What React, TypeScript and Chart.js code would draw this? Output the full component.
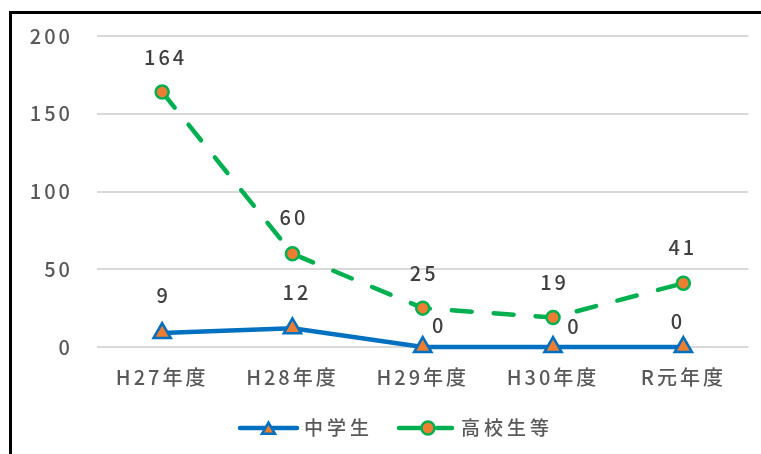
import React, { useEffect, useRef } from 'react';
import { Chart, registerables } from 'chart.js';

Chart.register(...registerables);

const categories = ['H27年度', 'H28年度', 'H29年度', 'H30年度', 'R元年度'];
const juniorHigh = [9, 12, 0, 0, 0];
const highSchool = [164, 60, 25, 19, 41];
const seriesNames = ['中学生', '高校生等'];
const yMin = 0;
const yMax = 200;
const yStep = 50;

// style: data label offsets relative to each point (px)
const labelOffsets: number[][][] = [
  [[0, -38], [3, -36], [15, -22], [20, -21], [-7, -26]],
  [[2, -35], [0, -36], [0, -35], [0, -35], [-2, -36]],
];

const FONT = '"Noto Sans CJK JP", "Noto Sans", sans-serif';
const TEXT = '#595959';
const LABEL = '#404040';
const BLUE = '#0070C0';
const GREEN = '#00B050';
const ORANGE = '#ED7D31';

const spacingPlugin = {
  id: 'spacing',
  beforeDraw(chart: any) {
    (chart.ctx as any).letterSpacing = '3px';
  },
};

const labelsPlugin = {
  id: 'dataLabels',
  afterDatasetsDraw(chart: any) {
    const ctx = chart.ctx;
    ctx.save();
    (ctx as any).letterSpacing = '3px';
    ctx.font = `500 20px ${FONT}`;
    ctx.fillStyle = LABEL;
    ctx.textAlign = 'center';
    ctx.textBaseline = 'middle';
    chart.data.datasets.forEach((ds: any, di: number) => {
      const meta = chart.getDatasetMeta(di);
      meta.data.forEach((pt: any, i: number) => {
        const off = labelOffsets[di][i];
        ctx.fillText(String(ds.data[i]), pt.x + off[0] + 1.5, pt.y + off[1]);
      });
    });
    ctx.restore();
  },
};

const legendPlugin = {
  id: 'customLegend',
  afterDraw(chart: any) {
    const ctx = chart.ctx;
    ctx.save();
    (ctx as any).letterSpacing = '4px';
    ctx.font = `500 19px ${FONT}`;
    const w1 = ctx.measureText(seriesNames[0]).width;
    const w2 = ctx.measureText(seriesNames[1]).width;
    const lineW = 57;
    const gapT = 7;
    const gapItems = 24;
    const total = lineW + gapT + w1 + gapItems + lineW + gapT + w2;
    let x = chart.width / 2 + 16 - total / 2;
    const y = 428;

    // item 1
    ctx.strokeStyle = BLUE;
    ctx.lineWidth = 4.5;
    ctx.lineCap = 'round';
    ctx.beginPath();
    ctx.moveTo(x, y);
    ctx.lineTo(x + lineW, y);
    ctx.stroke();
    const cx1 = x + lineW / 2;
    const r = 7.5;
    ctx.beginPath();
    for (let k = 0; k < 3; k++) {
      const a = (k * 2 * Math.PI) / 3;
      const px = cx1 + Math.sin(a) * r;
      const py = y + 2 - Math.cos(a) * r;
      if (k === 0) ctx.moveTo(px, py);
      else ctx.lineTo(px, py);
    }
    ctx.closePath();
    ctx.fillStyle = ORANGE;
    ctx.fill();
    ctx.lineWidth = 2.5;
    ctx.lineJoin = 'miter';
    ctx.strokeStyle = BLUE;
    ctx.stroke();
    ctx.fillStyle = TEXT;
    ctx.textAlign = 'left';
    ctx.textBaseline = 'middle';
    ctx.fillText(seriesNames[0], x + lineW + gapT, y);
    x += lineW + gapT + w1 + gapItems;

    // item 2
    ctx.strokeStyle = GREEN;
    ctx.lineWidth = 4.5;
    ctx.lineCap = 'round';
    ctx.setLineDash([22, 16]);
    ctx.beginPath();
    ctx.moveTo(x + 2, y);
    ctx.lineTo(x + lineW - 2, y);
    ctx.stroke();
    ctx.setLineDash([]);
    ctx.beginPath();
    ctx.arc(x + 31, y, 6.5, 0, Math.PI * 2);
    ctx.fillStyle = ORANGE;
    ctx.fill();
    ctx.lineWidth = 2.5;
    ctx.strokeStyle = GREEN;
    ctx.stroke();
    ctx.fillStyle = TEXT;
    ctx.fillText(seriesNames[1], x + lineW + gapT, y);
    ctx.restore();
  },
};

export default function App() {
  const ref = useRef<HTMLCanvasElement | null>(null);
  useEffect(() => {
    if (!ref.current) return;
    const chart = new Chart(ref.current, {
      type: 'line',
      data: {
        labels: categories,
        datasets: [
          {
            label: seriesNames[0],
            data: juniorHigh,
            borderColor: BLUE,
            borderWidth: 4.5,
            pointStyle: 'triangle',
            pointRadius: 10,
            pointBackgroundColor: ORANGE,
            pointBorderColor: BLUE,
            pointBorderWidth: 2.5,
            tension: 0,
            clip: false,
          },
          {
            label: seriesNames[1],
            data: highSchool,
            borderColor: GREEN,
            borderWidth: 4.5,
            borderDash: [20, 22],
            borderCapStyle: 'round',
            pointStyle: 'circle',
            pointRadius: 6.5,
            pointBackgroundColor: ORANGE,
            pointBorderColor: GREEN,
            pointBorderWidth: 2.5,
            tension: 0,
            clip: false,
          },
        ],
      },
      options: {
        responsive: false,
        animation: false,
        devicePixelRatio: 1,
        layout: { padding: { left: 0, right: 12, top: 35, bottom: 0 } },
        plugins: {
          legend: { display: false },
          tooltip: { enabled: false },
        },
        scales: {
          x: {
            type: 'category',
            offset: true,
            grid: { display: false, drawTicks: false },
            border: { display: false },
            ticks: {
              color: TEXT,
              font: { size: 20, family: FONT, weight: '500' },
              padding: 18,
              maxRotation: 0,
              autoSkip: false,
            },
            afterFit: (s: any) => {
              s.height = 107;
            },
          },
          y: {
            min: yMin,
            max: yMax,
            grid: { color: '#d9d9d9', lineWidth: 2, drawTicks: false },
            border: { display: false },
            ticks: {
              stepSize: yStep,
              color: TEXT,
              font: { size: 20, family: FONT, weight: '500' },
              padding: 24,
            },
            afterFit: (s: any) => {
              s.width = 97;
            },
          },
        },
      } as any,
      plugins: [spacingPlugin, labelsPlugin, legendPlugin],
    });
    return () => chart.destroy();
  }, []);

  return (
    <div>
      <canvas
        ref={ref}
        width={761}
        height={454}
        style={{ position: 'fixed', left: 0, top: 0, width: 761, height: 454, display: 'block', background: '#fff' }}
      />
      <div
        style={{
          position: 'fixed',
          left: 9,
          top: 11,
          width: 800,
          height: 500,
          borderLeft: '3px solid #000',
          borderTop: '3px solid #000',
          pointerEvents: 'none',
        }}
      />
    </div>
  );
}
